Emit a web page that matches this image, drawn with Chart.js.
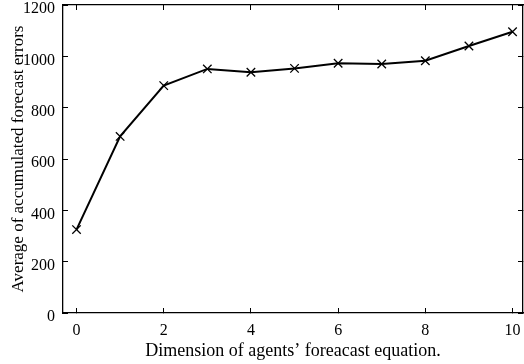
<!DOCTYPE html>
<html>
<head>
<meta charset="utf-8">
<script src="https://cdn.jsdelivr.net/npm/chart.js@4.4.1/dist/chart.umd.min.js"></script>
<style>
html,body{margin:0;padding:0;background:#fff;}
#wrap{width:524px;height:364px;position:relative;}
</style>
</head>
<body>
<div id="wrap"><canvas id="c" width="524" height="364"></canvas></div>
<script>
const dimensions = [0, 1, 2, 3, 4, 5, 6, 7, 8, 9, 10];
const avgErrors = [325, 688, 886, 951, 938, 953, 973, 970, 983, 1040, 1096];
const xTicks = [0, 2, 4, 6, 8, 10];
const yTicks = [0, 200, 400, 600, 800, 1000, 1200];
const xTitle = 'Dimension of agents\u2019 foreacast equation.';
const yTitle = 'Average of accumulated forecast errors';

const FONT = 'Liberation Serif';
const points = dimensions.map((d, i) => ({x: d, y: avgErrors[i]}));

const xRange = {min: -0.31, max: 10.24};
const yRange = {min: 0, max: 1200};

function gridOpts(){
  return {drawOnChartArea: false, drawTicks: true, tickLength: -5, color: '#000', lineWidth: 1};
}
function borderOpts(){
  return {display: true, color: '#000', width: 1.3};
}
function fixSize(prop, val){
  return s => {
    s[prop] = val;
    s.paddingTop = 0; s.paddingBottom = 0; s.paddingLeft = 0; s.paddingRight = 0;
  };
}

new Chart(document.getElementById('c'), {
  type: 'scatter',
  data: {
    datasets: [{
      data: points,
      showLine: true,
      clip: false,
      borderColor: '#000',
      backgroundColor: '#000',
      borderWidth: 2,
      pointStyle: 'crossRot',
      pointRadius: 6,
      pointBorderWidth: 1.3,
      pointBorderColor: '#000',
      tension: 0
    }]
  },
  options: {
    responsive: false,
    animation: false,
    devicePixelRatio: 1,
    layout: {autoPadding: false, padding: {left: 0, right: 0, top: 5, bottom: 0}},
    plugins: {legend: {display: false}, tooltip: {enabled: false}},
    scales: {
      x: {
        type: 'linear', position: 'bottom', min: xRange.min, max: xRange.max,
        afterBuildTicks: s => { s.ticks = xTicks.map(v => ({value: v})); },
        afterFit: fixSize('height', 51),
        grid: gridOpts(), border: borderOpts(),
        ticks: {color: '#000', font: {family: FONT, size: 16}, padding: 13, maxRotation: 0, autoSkip: false,
                callback: v => String(v)},
        title: {display: true, text: xTitle, color: '#000', font: {family: FONT, size: 18}, padding: {top: 0, bottom: 2}}
      },
      y: {
        type: 'linear', position: 'left', min: yRange.min, max: yRange.max,
        afterBuildTicks: s => { s.ticks = yTicks.map(v => ({value: v})); },
        afterFit: fixSize('width', 63),
        grid: gridOpts(), border: borderOpts(),
        ticks: {color: '#000', font: {family: FONT, size: 16}, padding: 13, labelOffset: 4, autoSkip: false,
                callback: v => String(v)},
        title: {display: true, text: yTitle, color: '#000', font: {family: FONT, size: 17}, padding: {top: 8, bottom: 0}}
      },
      x2: {
        type: 'linear', position: 'top', min: xRange.min, max: xRange.max,
        afterBuildTicks: s => { s.ticks = xTicks.map(v => ({value: v})); },
        afterFit: fixSize('height', 0),
        grid: gridOpts(), border: borderOpts(),
        ticks: {display: false}
      },
      y2: {
        type: 'linear', position: 'right', min: yRange.min, max: yRange.max,
        afterBuildTicks: s => { s.ticks = yTicks.map(v => ({value: v})); },
        afterFit: fixSize('width', 1),
        grid: gridOpts(), border: borderOpts(),
        ticks: {display: false}
      }
    }
  }
});
</script>
</body>
</html>
